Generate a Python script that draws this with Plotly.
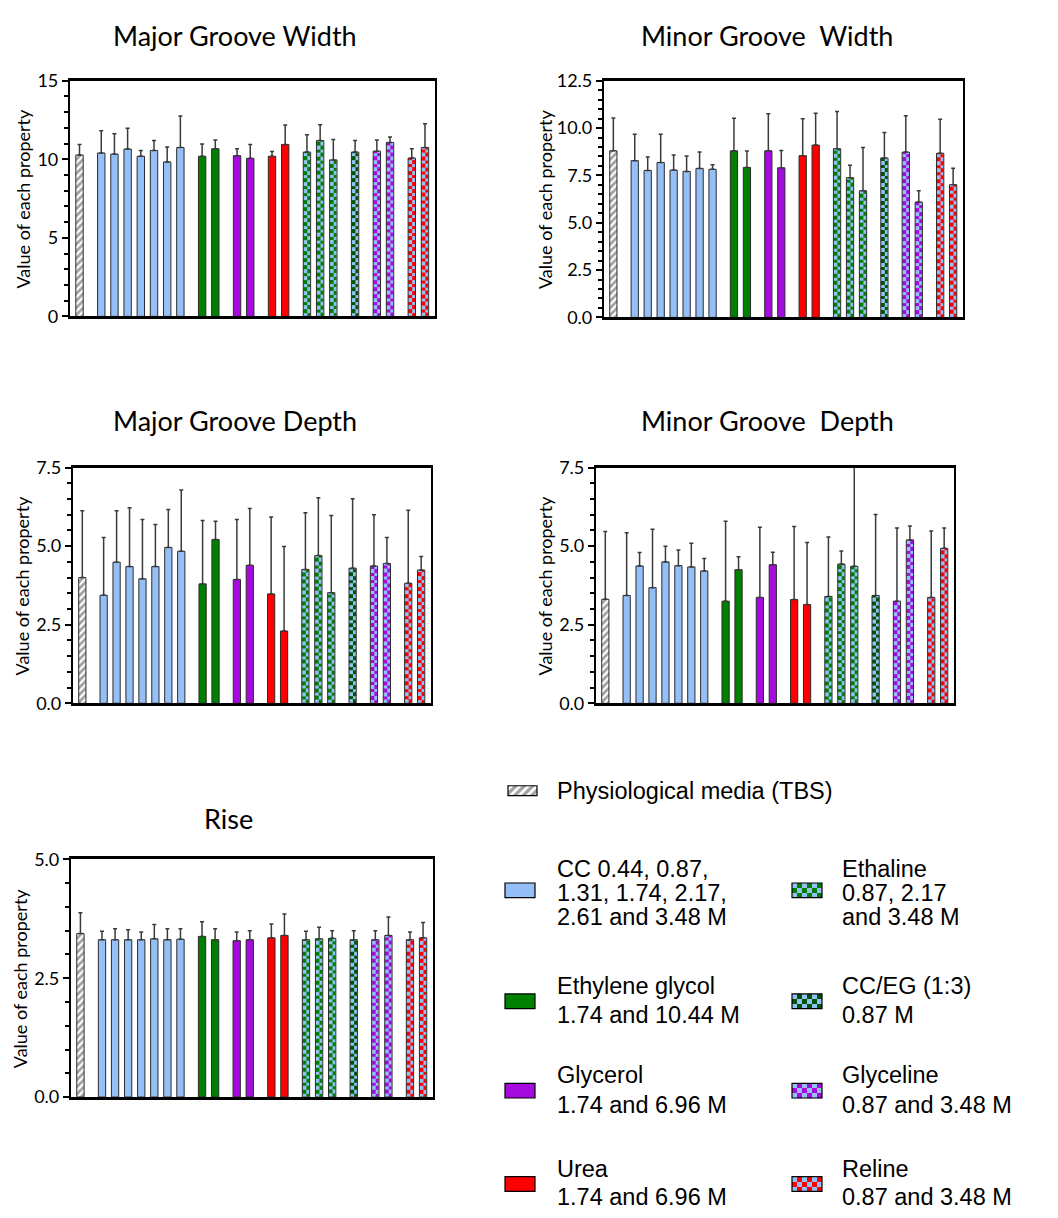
import plotly.graph_objects as go

W, H = 1058, 1218

# ---------------------------------------------------------------- data
categories = [
    "TBS",
    "CC 0.44 M", "CC 0.87 M", "CC 1.31 M", "CC 1.74 M", "CC 2.17 M", "CC 2.61 M", "CC 3.48 M",
    "EG 1.74 M", "EG 10.44 M",
    "Glycerol 1.74 M", "Glycerol 6.96 M",
    "Urea 1.74 M", "Urea 6.96 M",
    "Ethaline 0.87 M", "Ethaline 2.17 M", "Ethaline 3.48 M",
    "CC/EG (1:3) 0.87 M",
    "Glyceline 0.87 M", "Glyceline 3.48 M",
    "Reline 0.87 M", "Reline 3.48 M",
]
groups = (["tbs"] + ["cc"] * 7 + ["eg"] * 2 + ["gly"] * 2 + ["urea"] * 2
          + ["ethaline"] * 3 + ["cceg"] + ["glyceline"] * 2 + ["reline"] * 2)

major_width = [10.27, 10.40, 10.33, 10.65, 10.19, 10.56, 9.83, 10.75, 10.19, 10.67, 10.23,
               10.06, 10.19, 10.94, 10.46, 11.19, 9.96, 10.46, 10.52, 11.07, 10.08, 10.75]
major_width_sd = [0.67, 1.42, 1.30, 1.32, 0.37, 0.63, 0.96, 2.01, 0.79, 0.56, 0.44,
                  0.88, 0.31, 1.24, 1.11, 1.01, 1.30, 0.73, 0.71, 0.35, 0.59, 1.51]

minor_width = [8.80, 8.28, 7.76, 8.18, 7.78, 7.71, 7.87, 7.82, 8.80, 7.92, 8.80,
               7.90, 8.54, 9.10, 8.91, 7.38, 6.69, 8.42, 8.73, 6.09, 8.67, 7.01]
minor_width_sd = [1.73, 1.39, 0.71, 1.49, 0.80, 0.82, 0.86, 0.24, 1.72, 0.87, 1.96,
                  0.92, 1.95, 1.68, 1.96, 0.66, 2.28, 1.35, 1.92, 0.60, 1.79, 0.87]

major_depth = [4.00, 3.44, 4.49, 4.35, 3.96, 4.35, 4.96, 4.84, 3.80, 5.21, 3.94,
               4.39, 3.48, 2.30, 4.26, 4.70, 3.52, 4.30, 4.37, 4.45, 3.82, 4.24]
major_depth_sd = [2.13, 1.84, 1.64, 1.87, 1.89, 1.34, 1.21, 1.95, 2.02, 0.58, 1.91,
                  1.81, 2.45, 2.69, 1.80, 1.84, 2.46, 2.21, 1.63, 0.83, 2.32, 0.43]

minor_depth = [3.31, 3.43, 4.37, 3.68, 4.50, 4.38, 4.34, 4.21, 3.25, 4.25, 3.37,
               4.41, 3.30, 3.14, 3.40, 4.43, 4.36, 3.43, 3.25, 5.20, 3.37, 4.93]
minor_depth_sd = [2.16, 2.00, 0.43, 1.86, 0.50, 0.50, 0.75, 0.40, 2.54, 0.41, 2.23,
                  0.40, 2.33, 1.98, 1.89, 0.42, 3.60, 2.58, 2.33, 0.44, 2.11, 0.65]

rise = [3.44, 3.31, 3.31, 3.31, 3.31, 3.33, 3.31, 3.32, 3.38, 3.31, 3.29,
        3.31, 3.35, 3.40, 3.31, 3.33, 3.34, 3.31, 3.31, 3.40, 3.31, 3.35]
rise_sd = [0.44, 0.18, 0.23, 0.21, 0.16, 0.30, 0.23, 0.22, 0.31, 0.23, 0.18,
           0.19, 0.29, 0.45, 0.18, 0.24, 0.16, 0.19, 0.19, 0.39, 0.16, 0.32]

legend_entries = [
    ("tbs", ["Physiological media (TBS)"]),
    ("cc", ["CC 0.44, 0.87,", "1.31, 1.74, 2.17,", "2.61 and 3.48 M"]),
    ("ethaline", ["Ethaline", "0.87, 2.17", "and 3.48 M"]),
    ("eg", ["Ethylene glycol", "1.74 and 10.44 M"]),
    ("cceg", ["CC/EG (1:3)", "0.87 M"]),
    ("gly", ["Glycerol", "1.74 and 6.96 M"]),
    ("glyceline", ["Glyceline", "0.87 and 3.48 M"]),
    ("urea", ["Urea", "1.74 and 6.96 M"]),
    ("reline", ["Reline", "0.87 and 3.48 M"]),
]

# ---------------------------------------------------------------- styles
LIGHT = "#94BFF7"
GREEN = "#008000"
DKGREEN = "#005500"
PURPLE = "#A50BDF"
RED = "#FF0000"
EDGE = "#2b2b2b"
ERR = "#3a3a3a"

# group -> (solid fill, checker dark colour or None, hatch shape)
style = {
    "tbs": ("white", None, "/"),
    "cc": (LIGHT, None, ""),
    "eg": (GREEN, None, ""),
    "gly": (PURPLE, None, ""),
    "urea": (RED, None, ""),
    "ethaline": (None, GREEN, ""),
    "cceg": (None, DKGREEN, ""),
    "glyceline": (None, PURPLE, ""),
    "reline": (None, RED, ""),
}

TITLE_FONT = dict(family="Lato", size=27, color="black")
TICK_FONT = dict(family="Lato", size=18, color="black")
LEG_FONT = dict(family="Liberation Sans", size=23.5, color="black")

# x positions: unit step inside a group, wider step between groups
GROUP_STEP = 1.65
positions = []
p = 0.0
for i, g in enumerate(groups):
    if i > 0:
        p += 1.0 if g == groups[i - 1] else GROUP_STEP
    positions.append(p)
BAR_W = 0.56
X_RANGE = [-0.72, positions[-1] + 0.76]
CHECK_PX = 3.7  # checker square size in pixels

# panels: title, values, sd, ymax, major, minor, fmt, x-box px, y-box px, title pos, y-label x
panels = [
    ("Major Groove Width", major_width, major_width_sd, 15, 5, 1, "d",
     (70, 435), (70, 310), (235, 24), 23),
    ("Minor Groove\u00a0 Width", minor_width, minor_width_sd, 12.5, 2.5, 0.5, ".1f",
     (604, 963), (70, 311), (767, 24), 545),
    ("Major Groove Depth", major_depth, major_depth_sd, 7.5, 2.5, 0.5, ".1f",
     (73, 431), (464, 704), (235, 416), 22),
    ("Minor Groove\u00a0 Depth", minor_depth, minor_depth_sd, 7.5, 2.5, 0.5, ".1f",
     (596, 954), (464, 704), (767, 416), 545),
    ("Rise", rise, rise_sd, 5, 2.5, 0.5, ".1f",
     (71, 433), (863, 1105), (228, 821), 20),
]

fig = go.Figure()
layout_axes = {}
annotations = []


def checker_heatmap(x_edges, y_edges, dark, xa, ya):
    nr, nc = len(y_edges) - 1, len(x_edges) - 1
    z = [[(r + c) % 2 for c in range(nc)] for r in range(nr)]
    return go.Heatmap(x=x_edges, y=y_edges, z=z, zmin=0, zmax=1,
                      colorscale=[[0, LIGHT], [1, dark]], showscale=False,
                      hoverinfo="skip", xaxis=xa, yaxis=ya)


for k, (title, vals, sd, ymax, major, minor, fmt, xb, yb, tpos, ylx) in enumerate(panels, start=1):
    sfx = "" if k == 1 else str(k)
    xa, ya = "x" + sfx, "y" + sfx

    fills, shapes = [], []
    for g in groups:
        solid, dark, hatch = style[g]
        fills.append(solid if solid else "rgba(0,0,0,0)")
        shapes.append(hatch)

    # checkered bars: squares built up to each bar's value
    cell = CHECK_PX * ymax / (yb[1] - yb[0])
    for xc, v, g in zip(positions, vals, groups):
        dark = style[g][1]
        if dark is None:
            continue
        ys = []
        yv = 0.0
        while yv < v - 1e-9:
            ys.append(yv)
            yv += cell
        ys.append(v)
        fig.add_trace(checker_heatmap([xc - BAR_W / 2, xc, xc + BAR_W / 2], ys, dark, xa, ya))

    fig.add_trace(go.Bar(
        x=positions, y=vals, width=BAR_W, text=categories, textposition="none",
        marker=dict(color=fills, line=dict(color=EDGE, width=1),
                    pattern=dict(shape=shapes, fgcolor="black", size=5, solidity=0.55)),
        error_y=dict(type="data", symmetric=False, array=sd, arrayminus=[0] * len(sd),
                     color=ERR, thickness=1.5, width=2),
        xaxis=xa, yaxis=ya, showlegend=False, hoverinfo="skip",
    ))

    layout_axes["xaxis" + sfx] = dict(
        domain=[xb[0] / W, xb[1] / W], range=X_RANGE, anchor=ya,
        showline=True, linewidth=2.5, linecolor="black", mirror=True,
        ticks="", showticklabels=False, showgrid=False, zeroline=False, fixedrange=True)
    layout_axes["yaxis" + sfx] = dict(
        domain=[1 - yb[1] / H, 1 - yb[0] / H], range=[0, ymax], anchor=xa,
        showline=True, linewidth=2.2, linecolor="black", mirror=True,
        ticks="outside", ticklen=6, tickwidth=2, tickcolor="black",
        tick0=0, dtick=major, tickformat=fmt, tickfont=TICK_FONT,
        minor=dict(tick0=0, dtick=minor, ticks="outside", ticklen=4, tickwidth=1.5,
                   tickcolor="black"),
        showgrid=False, zeroline=False, fixedrange=True)

    annotations.append(dict(text=title, x=tpos[0], y=tpos[1], xref="x6", yref="y6",
                            xanchor="center", yanchor="middle", showarrow=False,
                            font=TITLE_FONT))
    annotations.append(dict(text="Value of each property", x=ylx, y=(yb[0] + yb[1]) / 2,
                            xref="x6", yref="y6", textangle=-90, xanchor="center",
                            yanchor="middle", showarrow=False, font=TICK_FONT))

# ---------------------------------------------------------------- legend (pixel-space overlay)
layout_axes["xaxis6"] = dict(domain=[0, 1], range=[0, W], anchor="y6", visible=False,
                             fixedrange=True)
layout_axes["yaxis6"] = dict(domain=[0, 1], range=[H, 0], anchor="x6", visible=False,
                             fixedrange=True)

# swatch box (left, top, width, height) and text (x, line centres) for each entry
legend_layout = {
    "tbs": ((508, 788, 29, 10), (555, [793])),
    "cc": ((505, 887, 30, 15), (555, [872.5, 897, 921.5])),
    "ethaline": ((792, 887, 30, 15), (840, [872.5, 897, 921.5])),
    "eg": ((505, 1000, 30, 15), (555, [992, 1021])),
    "cceg": ((792, 1000, 30, 15), (840, [992, 1021])),
    "gly": ((505, 1091, 30, 15), (555, [1083, 1113])),
    "glyceline": ((792, 1091, 30, 15), (840, [1083, 1113])),
    "urea": ((505, 1186, 30, 15), (555, [1178, 1207])),
    "reline": ((792, 1186, 30, 15), (840, [1178, 1207])),
}

sw_x, sw_base, sw_h, sw_w, sw_fill, sw_shape = [], [], [], [], [], []
for key, lines in legend_entries:
    (bx, by, bw, bh), (tx, tys) = legend_layout[key]
    solid, dark, hatch = style[key]
    if dark is not None:
        n_c, n_r = 6, 3
        xe = [bx + bw * c / n_c for c in range(n_c + 1)]
        ye = [by + bh * r / n_r for r in range(n_r + 1)]
        fig.add_trace(checker_heatmap(xe, ye, dark, "x6", "y6"))
    sw_x.append(bx + bw / 2)
    sw_base.append(by)
    sw_h.append(bh)
    sw_w.append(bw)
    sw_fill.append(solid if solid else "rgba(0,0,0,0)")
    sw_shape.append(hatch)
    for line, ty in zip(lines, tys):
        annotations.append(dict(text=line, x=tx, y=ty, xref="x6", yref="y6",
                                xanchor="left", yanchor="middle", showarrow=False,
                                font=LEG_FONT))

fig.add_trace(go.Bar(
    x=sw_x, y=sw_h, base=sw_base, width=sw_w,
    marker=dict(color=sw_fill, line=dict(color="black", width=1.2),
                pattern=dict(shape=sw_shape, fgcolor="black", size=6, solidity=0.55)),
    xaxis="x6", yaxis="y6", showlegend=False, hoverinfo="skip",
))

fig.update_layout(
    width=W, height=H, autosize=False,
    margin=dict(l=0, r=0, t=0, b=0),
    paper_bgcolor="white", plot_bgcolor="rgba(0,0,0,0)",
    barmode="overlay", showlegend=False,
    annotations=annotations,
    **layout_axes,
)

fig.write_html("out.html")
